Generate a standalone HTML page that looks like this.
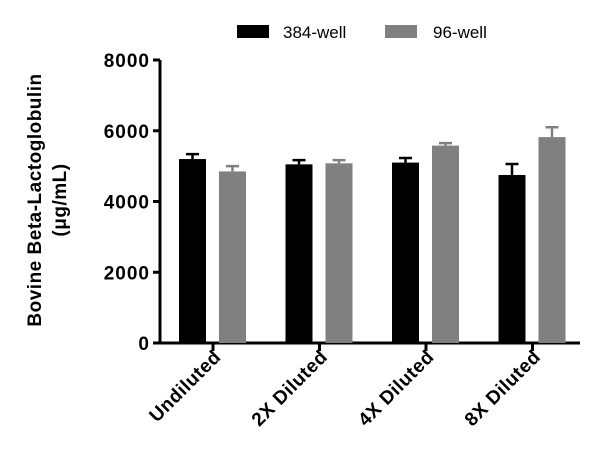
<!DOCTYPE html>
<html><head><meta charset="utf-8"><style>
body{margin:0;background:#fff;}
svg{display:block;font-family:"Liberation Sans",sans-serif;}
</style></head><body>
<svg id="chart" width="600" height="467"></svg>
<script>
const categories=["Undiluted","2X Diluted","4X Diluted","8X Diluted"];
const series384=[5200,5050,5100,4750];
const err384=[140,120,130,310];
const series96=[4850,5080,5580,5820];
const err96=[150,90,70,280];
const yTicks=[0,2000,4000,6000,8000];
const seriesNames=["384-well","96-well"];
const NS="http://www.w3.org/2000/svg";
const svg=document.getElementById('chart');
function mk(t,a,p){const e=document.createElementNS(NS,t);for(const k in a)e.setAttribute(k,a[k]);(p||svg).appendChild(e);return e;}
const y0=343,y1=60,xL=160,xR=580;
const y=v=>y0-(v/8000)*(y0-y1);
const cx=i=>213+i*106.5;
let e=mk('line',{x1:xL,y1:y1,x2:xL,y2:y0+1.5,stroke:'#000','stroke-width':3});


e=mk('line',{x1:xL-1.5,y1:y0,x2:xR,y2:y0,stroke:'#000','stroke-width':3});


yTicks.forEach(v=>{
 let t=mk('line',{x1:xL-7,y1:y(v),x2:xL,y2:y(v),stroke:'#000','stroke-width':3});
 
 
 let l=mk('text',{x:xL-10,y:y(v)+7,'text-anchor':'end','font-size':19,'font-weight':'bold','letter-spacing':1});
 l.textContent=v;
 
 
});
const yt=mk('text',{transform:'translate(46,200) rotate(-90)','text-anchor':'middle','font-size':19,'font-weight':'bold','letter-spacing':0.5});


const ts1=mk('tspan',{x:0,dy:-5},yt);ts1.textContent='Bovine Beta-Lactoglobulin';
const ts2=mk('tspan',{x:0,dy:25},yt);ts2.textContent='(μg/mL)';
categories.forEach((c,i)=>{
 let t=mk('line',{x1:cx(i),y1:y0,x2:cx(i),y2:y0+8,stroke:'#000','stroke-width':3});
 
 
 let l=mk('text',{transform:`translate(${cx(i)+9},${y0+15}) rotate(-45)`,'text-anchor':'end','font-size':19,'font-weight':'bold','letter-spacing':0.5});
 l.textContent=c;
 
 
 [[series384,err384,'#000',-20.5],[series96,err96,'#808080',19.5]].forEach(([s,er,col,off],k)=>{
  const bx=cx(i)+off;
  let b=mk('rect',{x:bx-13.5,y:y(s[i]),width:27,height:y0-y(s[i]),fill:col});
  
  
  let el=mk('path',{d:`M${bx} ${y(s[i])}V${y(s[i]+er[i])}M${bx-6.5} ${y(s[i]+er[i])}H${bx+6.5}`,stroke:col,'stroke-width':2.5,fill:'none'});
  
  
 });
});
[['#000',237,283],['#808080',385,433]].forEach(([col,rx,tx],k)=>{
 let r=mk('rect',{x:rx,y:25,width:32,height:13,fill:col});
 
 
 let t=mk('text',{x:tx,y:38,'font-size':17});
 t.textContent=seriesNames[k];
 
 
});
</script>
</body></html>
